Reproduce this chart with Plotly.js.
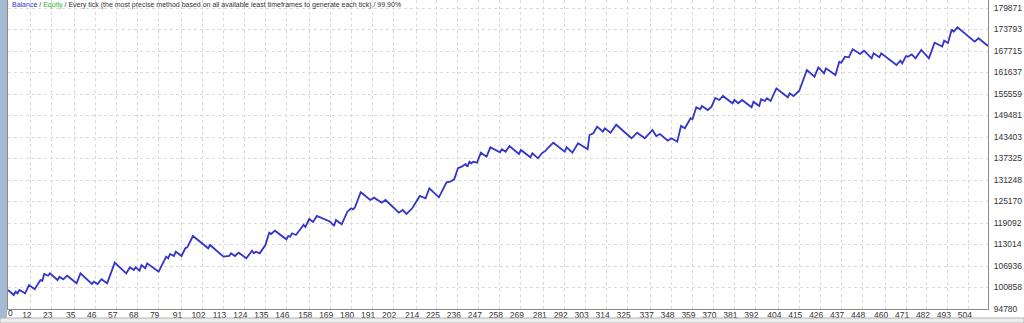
<!DOCTYPE html>
<html>
<head>
<meta charset="utf-8">
<script src="https://cdn.plot.ly/plotly-3.0.1.min.js"></script>
<style>
html,body{margin:0;padding:0;background:#fff;}
#chart{width:1024px;height:323px;}
</style>
</head>
<body>
<div id="chart"></div>
<script>
// Trade number at each vertex of the balance curve
const trades = [0,3,4,5,6,8,9,11,13,14,17,18,19,21,22,23,26,27,29,31,36,38,44,45,47,49,52,56,62,64,66,67,69,70,72,73,79,83,84,85,87,88,91,93,94,97,105,106,113,116,117,119,121,125,128,129,130,132,135,137,138,140,146,147,148,149,151,153,155,156,158,160,162,169,171,172,175,178,179,180,181,182,185,190,192,196,198,205,207,209,212,216,219,221,226,230,232,234,236,238,240,241,242,243,244,246,248,251,253,258,259,261,263,268,269,274,275,278,280,282,283,286,292,293,296,299,304,305,307,309,312,313,316,319,327,330,334,338,340,342,346,348,351,353,355,358,359,361,363,364,367,369,371,373,375,380,381,383,385,390,391,394,395,397,398,400,403,409,410,412,415,419,423,425,428,429,434,436,437,439,441,443,447,449,453,454,457,458,466,468,469,471,472,474,476,479,483,486,490,491,493,495,496,498,507,509,514];
// Balance at each vertex
const balance = [100150,98740,99670,99220,100150,99670,99220,101560,100910,100350,102980,102780,104680,104190,104870,104390,102980,103910,103180,104190,102050,104870,101850,102500,101850,103180,102050,107870,104870,106570,105810,106570,105610,107220,106290,107700,105330,109570,109110,110330,109760,110980,109760,111940,112200,115420,111940,112870,109570,109760,110530,109760,110700,109110,111260,110530,110980,110530,112870,116350,115980,116920,114480,115420,115220,116180,115700,117110,118530,117960,120220,119380,121070,119460,118240,119940,118730,122290,122770,123250,122970,123530,127770,125590,126250,124830,125590,122000,122770,121640,123250,126730,126080,128900,126360,130600,130770,131450,134560,135010,135770,135010,136420,135970,136420,136140,138970,137840,140490,139080,139930,139250,140860,138600,139730,137670,138800,137380,138800,139530,140210,141790,139250,140490,138970,141620,139930,143970,144450,146320,144900,145860,144620,146880,143040,144620,143040,145380,143690,144250,142360,143040,142080,146510,145860,148690,148410,151800,151240,152170,151040,151970,154430,153860,155000,152930,153860,152930,153860,151800,153380,152170,154060,153580,154350,153580,157170,154630,155760,155000,156490,162350,160450,163110,161410,162830,160930,164690,164410,166110,165940,168200,166870,167800,165650,167070,165940,167070,163760,164970,164240,166300,166110,166780,165650,168000,165650,170060,168990,170630,169980,173800,173170,174420,170350,171310,169130];
// Axis tick labels
const xTicks = [0,12,23,35,46,57,68,79,91,102,113,124,135,146,158,169,180,191,202,214,225,236,247,258,269,281,292,303,314,325,337,348,359,370,381,392,404,415,426,437,448,460,471,482,493,504];
const yTicks = [94780,100858,106936,113014,119092,125170,131248,137325,143403,149481,155559,161637,167715,173793,179871];
const titleParts = ["Balance", "Equity", "Every tick (the most precise method based on all available least timeframes to generate each tick)", "99.90%"];

const W = 1024, H = 323, ml = 8, mr = 36, mt = 0, mb = 14;
const pw = W - ml - mr, ph = H - mt - mb;
const px = v => v / pw, py = v => v / ph;

const trace = {
  x: trades, y: balance, type: 'scatter', mode: 'lines',
  line: {color: '#3434c8', width: 1.8},
  hoverinfo: 'skip'
};

const tickFont = {family: 'Liberation Sans, Arial, sans-serif', size: 8.5, color: '#333'};

const layout = {
  width: W, height: H,
  margin: {l: ml, r: mr, t: mt, b: mb, pad: 0},
  paper_bgcolor: '#ffffff', plot_bgcolor: '#ffffff',
  showlegend: false,
  xaxis: {
    range: [0, 514], tickmode: 'array', tickvals: xTicks,
    ticktext: xTicks.map(v => v === xTicks[0] ? '' : String(v)),
    showgrid: true, gridcolor: '#dadada', griddash: 'dot', gridwidth: 1,
    showline: true, linecolor: '#8a8a8a', linewidth: 1,
    ticks: '', tickfont: tickFont, ticklabelshift: -4, ticklabelstandoff: -2,
    zeroline: false, fixedrange: true
  },
  yaxis: {
    range: [94780, 182134], side: 'right', tickmode: 'array', tickvals: yTicks, ticktext: yTicks.map(String),
    showgrid: true, gridcolor: '#dadada', griddash: 'dot', gridwidth: 1,
    showline: true, mirror: true, linecolor: '#8a8a8a', linewidth: 1,
    ticks: '', tickfont: tickFont, ticklabelstandoff: 3,
    zeroline: false, fixedrange: true
  },
  shapes: [
    {type: 'rect', xref: 'paper', yref: 'paper', x0: px(-8), x1: px(-1), y0: py(-9), y1: 1,
     fillcolor: '#a7bad4', line: {width: 0}, layer: 'above'},
    {type: 'rect', xref: 'paper', yref: 'paper', x0: px(-8), x1: px(W - ml), y0: py(-14), y1: py(-9),
     fillcolor: '#ededed', line: {color: '#b4b4b4', width: 1}, layer: 'above'}
  ],
  annotations: [
    {
      xref: 'paper', yref: 'paper', x: px(2), y: 1 - py(5), xanchor: 'left', yanchor: 'middle',
      showarrow: false, align: 'left',
      font: {family: 'Liberation Sans, Arial, sans-serif', size: 7, color: '#333'},
      text: '<span style="color:#3434c8">' + titleParts[0] + '</span> / <span style="color:#2db82d">' +
            titleParts[1] + '</span> / ' + titleParts[2] + ' / ' + titleParts[3]
    },
    {
      xref: 'x', yref: 'paper', x: xTicks[0], y: -py(4), xanchor: 'center', yanchor: 'middle',
      xshift: 2.5, showarrow: false, font: tickFont, text: String(xTicks[0])
    }
  ]
};

Plotly.newPlot('chart', [trace], layout, {staticPlot: true, displayModeBar: false});
</script>
</body>
</html>
